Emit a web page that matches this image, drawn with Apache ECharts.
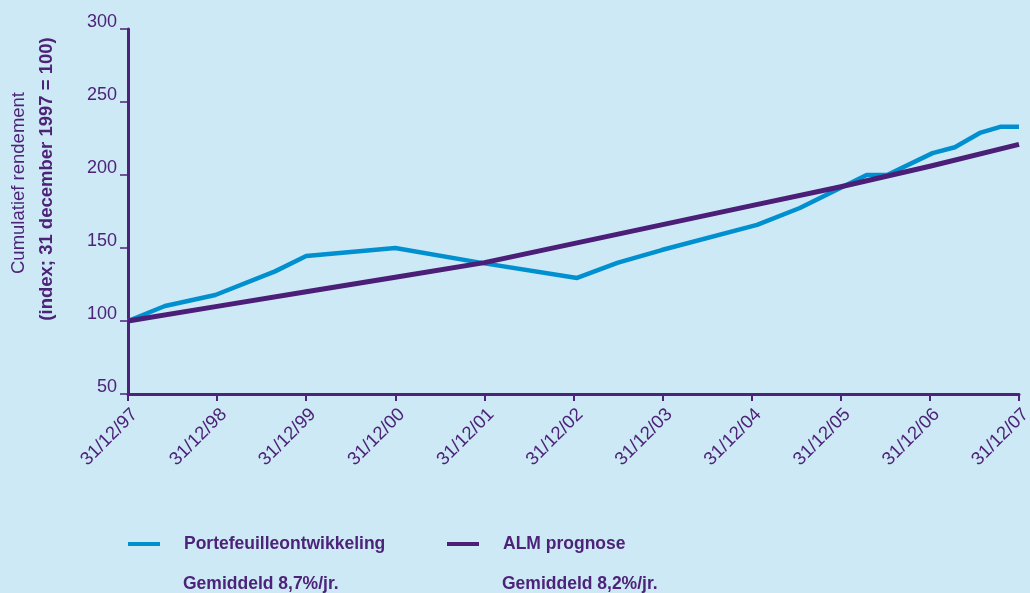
<!DOCTYPE html>
<html>
<head>
<meta charset="utf-8">
<script src="https://cdn.jsdelivr.net/npm/echarts@6/dist/echarts.min.js"></script>
<style>
html,body{margin:0;padding:0;background:#cce9f5;}
#c{width:1030px;height:593px;}
</style>
</head>
<body>
<div id="c"></div>
<script>
const tickLabels = ['31/12/97','31/12/98','31/12/99','31/12/00','31/12/01','31/12/02','31/12/03','31/12/04','31/12/05','31/12/06','31/12/07'];
const yTicks = [50, 100, 150, 200, 250, 300];
// Portefeuilleontwikkeling: position in years since 31/12/97, index value
const yearsPortefeuille = [0, 0.415, 0.98, 1.65, 2.0, 3.0, 3.95, 5.04, 5.5, 5.99, 7.06, 7.54, 8.29, 8.52, 9.03, 9.28, 9.56, 9.79, 10];
const portefeuille = [100, 110.3, 117.8, 134, 144.5, 150, 140, 129.5, 140, 148.6, 165.8, 177.4, 200, 200, 215, 219, 228.8, 233, 233];
// ALM prognose
const yearsALM = [0, 1, 2, 3, 4, 5, 6, 7, 8, 9, 10];
const almPrognose = [100, 110, 120, 130, 140, 153, 166, 179, 192, 206, 221];
const seriesNames = ['Portefeuilleontwikkeling', 'ALM prognose'];
const averages = ['Gemiddeld 8,7%/jr.', 'Gemiddeld 8,2%/jr.'];
const axisTitle = ['Cumulatief rendement', '(index; 31 december 1997 = 100)'];

const purple = '#4d2379';
const lineBlue = '#0090d0';
const linePurple = '#4b1e78';
const legendFont = {color: purple, fontSize: 17.5, fontWeight: 'bold', fontFamily: 'Liberation Sans', lineHeight: 20, padding: [6, 0, 0, 19]};

const chart = echarts.init(document.getElementById('c'), null, {renderer: 'canvas'});
const option = {
  backgroundColor: '#cce9f5',
  animation: false,
  grid: {left: 128, right: 11, top: 29, bottom: 199, containLabel: false, outerBoundsMode: 'none'},
  xAxis: {
    type: 'value', min: 0, max: 10, interval: 1,
    splitLine: {show: false},
    axisLine: {show: true, onZero: false, lineStyle: {color: purple, width: 3}},
    axisTick: {show: true, length: 7, lineStyle: {color: purple, width: 2}},
    axisLabel: {
      rotate: 45, margin: 11, color: purple, fontSize: 18.5, fontFamily: 'Liberation Sans',
      verticalAlign: 'top', lineHeight: 19,
      formatter: v => tickLabels[Math.round(v)] || ''
    }
  },
  yAxis: {
    type: 'value', min: yTicks[0], max: yTicks[yTicks.length - 1], interval: 50,
    splitLine: {show: false},
    axisLine: {show: true, onZero: false, lineStyle: {color: purple, width: 3}},
    axisTick: {show: true, length: 8, lineStyle: {color: purple, width: 1.5}},
    axisLabel: {
      margin: 11, color: purple, fontSize: 18, fontFamily: 'Liberation Sans',
      verticalAlign: 'bottom', padding: [0, 0, -2, 0]
    }
  },
  legend: [
    {data: [seriesNames[0]], left: 128, top: 531, padding: 0, icon: 'rect', itemWidth: 32, itemHeight: 4, textStyle: legendFont},
    {data: [seriesNames[1]], left: 447, top: 531, padding: 0, icon: 'rect', itemWidth: 32, itemHeight: 4, textStyle: legendFont}
  ],
  graphic: [
    {type: 'text', x: 19, y: 183, rotation: Math.PI / 2, silent: true,
      style: {text: axisTitle[0], fill: purple, font: '18.5px "Liberation Sans"', align: 'center', verticalAlign: 'middle'}},
    {type: 'text', x: 47, y: 179, rotation: Math.PI / 2, silent: true,
      style: {text: axisTitle[1], fill: purple, font: 'bold 18.5px "Liberation Sans"', align: 'center', verticalAlign: 'middle'}},
    {type: 'text', x: 183, y: 584.5, silent: true,
      style: {text: averages[0], fill: purple, font: 'bold 17.5px "Liberation Sans"', align: 'left', verticalAlign: 'middle'}},
    {type: 'text', x: 502, y: 584.5, silent: true,
      style: {text: averages[1], fill: purple, font: 'bold 17.5px "Liberation Sans"', align: 'left', verticalAlign: 'middle'}}
  ],
  series: [
    {name: seriesNames[0], type: 'line', showSymbol: false, symbol: 'none',
      lineStyle: {color: lineBlue, width: 4.5, join: 'round'}, itemStyle: {color: lineBlue},
      data: yearsPortefeuille.map((x, i) => [x, portefeuille[i]])},
    {name: seriesNames[1], type: 'line', showSymbol: false, symbol: 'none',
      lineStyle: {color: linePurple, width: 5, join: 'round'}, itemStyle: {color: linePurple},
      data: yearsALM.map((x, i) => [x, almPrognose[i]])}
  ]
};
chart.setOption(option);
</script>
</body>
</html>
